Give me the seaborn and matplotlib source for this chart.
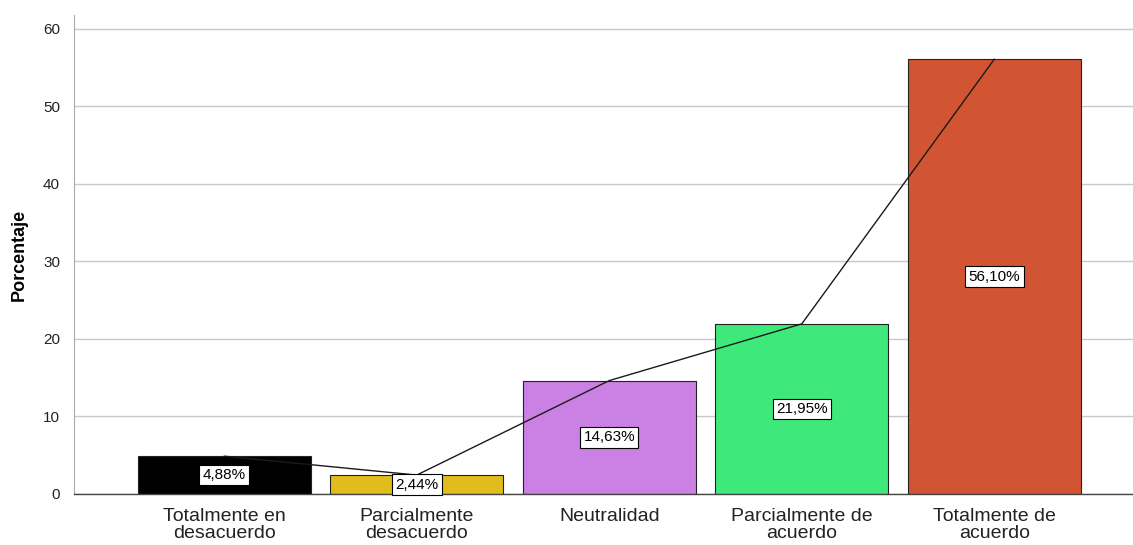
import matplotlib
matplotlib.use("Agg")
import matplotlib.pyplot as plt
import seaborn as sns
import pandas as pd

categories = ["Totalmente en\ndesacuerdo", "Parcialmente\ndesacuerdo", "Neutralidad",
              "Parcialmente de\nacuerdo", "Totalmente de\nacuerdo"]
percentages = [4.88, 2.44, 14.63, 21.95, 56.10]
bar_colors = ["#000000", "#E1BC1D", "#CB80E4", "#3FE87B", "#D15433"]
y_ticks = [0, 10, 20, 30, 40, 50, 60]

sns.set_style("white")
plt.rcParams["font.family"] = ["Liberation Sans", "DejaVu Sans"]

df = pd.DataFrame({"categoria": categories, "porcentaje": percentages})

fig = plt.figure(figsize=(11.33, 5.45), dpi=100)
ax = fig.add_axes([0.0653, 0.0936, 0.9347, 0.879])

sns.barplot(data=df, x="categoria", y="porcentaje", hue="categoria",
            palette=bar_colors, saturation=1, width=0.9, edgecolor="#222222",
            linewidth=0.8, legend=False, ax=ax, zorder=2)

# connecting line across the bar tops
ax.plot(range(len(percentages)), percentages, color="#1a1a1a", linewidth=1.0, zorder=3)

for i, v in enumerate(percentages):
    ax.text(i, v / 2, f"{v:.2f}%".replace(".", ","), ha="center", va="center",
            fontsize=11, color="black", zorder=4,
            bbox=dict(boxstyle="square,pad=0.22", facecolor="white",
                      edgecolor="black", linewidth=0.8))

ax.set_ylim(0, 61.8)
ax.set_xlim(-0.78, 4.72)
ax.set_yticks(y_ticks)
ax.yaxis.grid(True, color="#c8c8c8", linewidth=1.0, zorder=0)
ax.set_axisbelow(True)
ax.set_xlabel("")
ax.set_ylabel("Porcentaje", fontsize=13, fontweight="bold", labelpad=11, color="black")
ax.tick_params(axis="y", labelsize=11, length=0, pad=10, labelcolor="#222222")
ax.tick_params(axis="x", labelsize=14, length=0, pad=10, labelcolor="#222222")
for lbl in ax.get_xticklabels():
    lbl.set_linespacing(1.0)

for s in ["top", "right"]:
    ax.spines[s].set_visible(False)
ax.spines["left"].set_color("#aaaaaa")
ax.spines["bottom"].set_color("#444444")
ax.spines["bottom"].set_linewidth(1.0)

fig.savefig("out.png", dpi=100)
